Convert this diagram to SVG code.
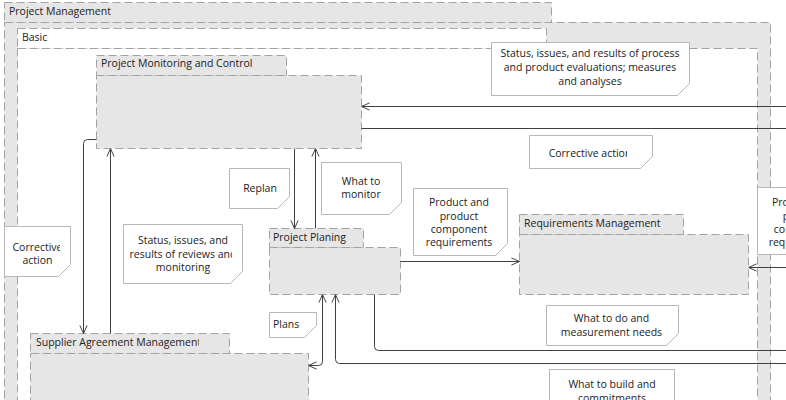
<svg xmlns="http://www.w3.org/2000/svg" width="786" height="400" viewBox="0 0 786 400">
  <defs>
    <style>
      .pkg{stroke:#a3a3a3;stroke-width:1;stroke-dasharray:8 4}
      .gray{fill:#e6e6e6}
      .white{fill:#ffffff}
      .note{fill:#ffffff;stroke:#b8b8b8;stroke-width:1}
      .lbl{font-family:"Open Sans","Noto Sans",sans-serif;font-size:10.5px;fill:#222222}
      .mid{text-anchor:middle}
      .conn{fill:none;stroke:#404040;stroke-width:1}
      .arr{marker-end:url(#arrow)}
    </style>
    <marker id="arrow" viewBox="0 0 10 10" refX="10" refY="5" markerWidth="9" markerHeight="9" markerUnits="userSpaceOnUse" orient="auto-start-reverse">
      <path d="M1,1 L10,5 L1,9" fill="none" stroke="#404040" stroke-width="1.1"/>
    </marker>
    <!-- label areas narrower than their text -->
    <clipPath id="clipCorrTop"><rect x="529" y="130" width="98" height="40"/></clipPath>
    <clipPath id="clipCorrLeft"><rect x="4" y="225" width="56" height="50"/></clipPath>
    <clipPath id="clipReviews"><rect x="123" y="224" width="109" height="58"/></clipPath>
    <clipPath id="clipSam"><rect x="30" y="333" width="169" height="20"/></clipPath>
  </defs>

  <!-- outer package -->
  <g id="project-management">
    <rect class="pkg gray" x="4.5" y="2.5" width="547" height="20"/>
    <rect class="pkg gray" x="4.5" y="22.5" width="766" height="400"/>
    <text class="lbl" x="9" y="15">Project Management</text>
  </g>

  <!-- inner package -->
  <g id="basic">
    <rect class="pkg white" x="17.5" y="28.5" width="529" height="20"/>
    <rect class="pkg white" x="17.5" y="48.5" width="740" height="380"/>
    <text class="lbl" x="22" y="41">Basic</text>
  </g>

  <g id="project-monitoring-and-control">
    <rect class="pkg gray" x="96.5" y="55.5" width="190" height="20"/>
    <rect class="pkg gray" x="96.5" y="75.5" width="265" height="73"/>
    <text class="lbl" x="101" y="67">Project Monitoring and Control</text>
  </g>

  <g id="project-planing">
    <rect class="pkg gray" x="269.5" y="228.5" width="94" height="19"/>
    <rect class="pkg gray" x="269.5" y="247.5" width="131" height="47"/>
    <text class="lbl" x="273" y="241">Project Planing</text>
  </g>

  <g id="requirements-management">
    <rect class="pkg gray" x="519.5" y="214.5" width="164" height="20"/>
    <rect class="pkg gray" x="519.5" y="234.5" width="229" height="60"/>
    <text class="lbl" x="524" y="227">Requirements Management</text>
  </g>

  <g id="supplier-agreement-management">
    <rect class="pkg gray" x="30.5" y="333.5" width="199" height="20"/>
    <rect class="pkg gray" x="30.5" y="353.5" width="278" height="60"/>
    <text class="lbl" x="36" y="346" clip-path="url(#clipSam)">Supplier Agreement Management</text>
  </g>

  <!-- connectors -->
  <g id="connectors">
    <path class="conn arr" d="M786 106.5 H361.5"/>
    <path class="conn" d="M361.5 128.5 H786"/>
    <path class="conn arr" d="M294.5 148.5 V228.5"/>
    <path class="conn arr" d="M315.5 228.5 V148.5"/>
    <path class="conn arr" d="M96.5 139.5 H87.5 Q83.5 139.5 83.5 143.5 V333.5"/>
    <path class="conn arr" d="M110.5 333.5 V148.5"/>
    <path class="conn arr" d="M400.5 261.5 H519.5"/>
    <path class="conn arr" d="M786 267.5 H748.5"/>
    <path class="conn arr" style="marker-start:url(#arrow)" d="M322.5 294.5 V361.5 Q322.5 365.5 318.5 365.5 H308.5"/>
    <path class="conn" d="M374.5 294.5 V346.5 Q374.5 350.5 378.5 350.5 H786"/>
    <path class="conn arr" d="M786 363.5 H339.5 Q335.5 363.5 335.5 359.5 V294.5"/>
  </g>

  <!-- notes -->
  <g id="note-evaluations">
    <path class="note" d="M491.5 42.5 H689.5 V83.5 L677.5 95.5 H491.5 Z"/>
    <text class="lbl mid" x="590" y="57">Status, issues, and results of process</text>
    <text class="lbl mid" x="590" y="71">and product evaluations; measures</text>
    <text class="lbl mid" x="590" y="85">and analyses</text>
  </g>

  <g id="note-corrective-action">
    <path class="note" d="M529.5 135.5 H652.5 V156.5 L640.5 168.5 H529.5 Z"/>
    <text class="lbl mid" x="590" y="156.5" clip-path="url(#clipCorrTop)">Corrective action</text>
  </g>

  <g id="note-replan">
    <path class="note" d="M229.5 168.5 H289.5 V196.5 L277.5 208.5 H229.5 Z"/>
    <text class="lbl mid" x="260" y="191.5">Replan</text>
  </g>

  <g id="note-what-to-monitor">
    <path class="note" d="M321.5 162.5 H401.5 V202.5 L389.5 214.5 H321.5 Z"/>
    <text class="lbl mid" x="361" y="185">What to</text>
    <text class="lbl mid" x="361" y="198">monitor</text>
  </g>

  <g id="note-requirements">
    <path class="note" d="M413.5 188.5 H507.5 V243.5 L495.5 255.5 H413.5 Z"/>
    <text class="lbl mid" x="459" y="206">Product and</text>
    <text class="lbl mid" x="459" y="219.5">product</text>
    <text class="lbl mid" x="459" y="233">component</text>
    <text class="lbl mid" x="459" y="246">requirements</text>
  </g>

  <g id="note-requirements-right">
    <path class="note" d="M757.5 187.5 H850.5 V242.5 L838.5 254.5 H757.5 Z"/>
    <text class="lbl mid" x="802" y="206">Product and</text>
    <text class="lbl mid" x="802" y="219.5">product</text>
    <text class="lbl mid" x="802" y="233">component</text>
    <text class="lbl mid" x="802" y="246">requirements</text>
  </g>

  <g id="note-corrective-action-left">
    <path class="note" d="M4.5 226.5 H70.5 V264.5 L58.5 276.5 H4.5 Z"/>
    <g clip-path="url(#clipCorrLeft)">
      <text class="lbl mid" x="37.5" y="251">Corrective</text>
      <text class="lbl mid" x="37.5" y="263.5">action</text>
    </g>
  </g>

  <g id="note-reviews">
    <path class="note" d="M123.5 224.5 H242.5 V271.5 L230.5 283.5 H123.5 Z"/>
    <g clip-path="url(#clipReviews)">
      <text class="lbl mid" x="183" y="244">Status, issues, and</text>
      <text class="lbl mid" x="183" y="257.5">results of reviews and</text>
      <text class="lbl mid" x="183" y="271">monitoring</text>
    </g>
  </g>

  <g id="note-plans">
    <path class="note" d="M269.5 312.5 H316.5 V325.5 L304.5 337.5 H269.5 Z"/>
    <text class="lbl" x="273" y="328">Plans</text>
  </g>

  <g id="note-what-to-do">
    <path class="note" d="M546.5 305.5 H678.5 V333.5 L666.5 345.5 H546.5 Z"/>
    <text class="lbl mid" x="611.5" y="322">What to do and</text>
    <text class="lbl mid" x="611.5" y="335.5">measurement needs</text>
  </g>

  <g id="note-what-to-build">
    <path class="note" d="M549.5 369.5 H674.5 V420 H549.5 Z"/>
    <text class="lbl mid" x="612" y="388">What to build and</text>
    <text class="lbl mid" x="612" y="401.5">commitments</text>
  </g>
</svg>
